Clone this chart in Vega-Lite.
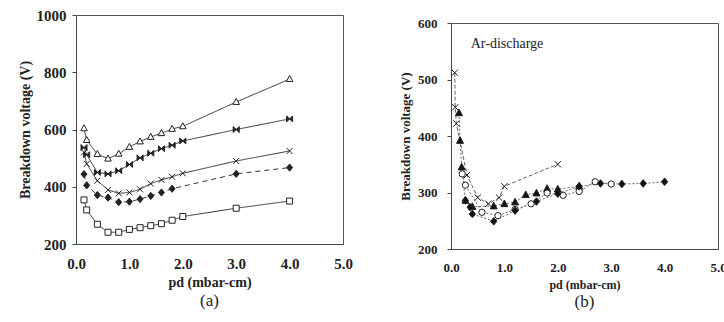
{
  "$schema": "https://vega.github.io/schema/vega-lite/v6.json",
  "padding": {"left": 17, "top": 7, "right": 0, "bottom": 0},
  "spacing": 46,
  "resolve": {"scale": {"shape": "independent", "fill": "independent", "strokeDash": "independent", "x": "independent", "y": "independent"}, "legend": {"shape": "independent"}},
  "config": {
    "font": "Liberation Serif",
    "view": {"stroke": "#555"},
    "axis": {"labelColor": "#222", "titleColor": "#222", "domainColor": "#444", "tickColor": "#444", "labelFontWeight": "bold", "titleFontWeight": "bold", "labelFlush": false}
  },
  "datasets": {
    "gases": [
      {"gas": "Carbon dioxide", "pd": 0.15, "v": 604}, {"gas": "Carbon dioxide", "pd": 0.2, "v": 563}, {"gas": "Carbon dioxide", "pd": 0.4, "v": 514}, {"gas": "Carbon dioxide", "pd": 0.6, "v": 498}, {"gas": "Carbon dioxide", "pd": 0.8, "v": 515}, {"gas": "Carbon dioxide", "pd": 1.0, "v": 539}, {"gas": "Carbon dioxide", "pd": 1.2, "v": 558}, {"gas": "Carbon dioxide", "pd": 1.4, "v": 574}, {"gas": "Carbon dioxide", "pd": 1.6, "v": 587}, {"gas": "Carbon dioxide", "pd": 1.8, "v": 602}, {"gas": "Carbon dioxide", "pd": 2.0, "v": 611}, {"gas": "Carbon dioxide", "pd": 3.0, "v": 696}, {"gas": "Carbon dioxide", "pd": 4.0, "v": 776},
      {"gas": "Air", "pd": 0.15, "v": 537}, {"gas": "Air", "pd": 0.2, "v": 512}, {"gas": "Air", "pd": 0.4, "v": 450}, {"gas": "Air", "pd": 0.6, "v": 445}, {"gas": "Air", "pd": 0.8, "v": 456}, {"gas": "Air", "pd": 1.0, "v": 478}, {"gas": "Air", "pd": 1.2, "v": 501}, {"gas": "Air", "pd": 1.4, "v": 517}, {"gas": "Air", "pd": 1.6, "v": 533}, {"gas": "Air", "pd": 1.8, "v": 545}, {"gas": "Air", "pd": 2.0, "v": 560}, {"gas": "Air", "pd": 3.0, "v": 600}, {"gas": "Air", "pd": 4.0, "v": 637},
      {"gas": "Oxygen", "pd": 0.15, "v": 520}, {"gas": "Oxygen", "pd": 0.2, "v": 480}, {"gas": "Oxygen", "pd": 0.4, "v": 421}, {"gas": "Oxygen", "pd": 0.6, "v": 389}, {"gas": "Oxygen", "pd": 0.8, "v": 377}, {"gas": "Oxygen", "pd": 1.0, "v": 380}, {"gas": "Oxygen", "pd": 1.2, "v": 391}, {"gas": "Oxygen", "pd": 1.4, "v": 411}, {"gas": "Oxygen", "pd": 1.6, "v": 424}, {"gas": "Oxygen", "pd": 1.8, "v": 435}, {"gas": "Oxygen", "pd": 2.0, "v": 447}, {"gas": "Oxygen", "pd": 3.0, "v": 490}, {"gas": "Oxygen", "pd": 4.0, "v": 525},
      {"gas": "Nitrogen", "pd": 0.15, "v": 444}, {"gas": "Nitrogen", "pd": 0.2, "v": 405}, {"gas": "Nitrogen", "pd": 0.4, "v": 371}, {"gas": "Nitrogen", "pd": 0.6, "v": 362}, {"gas": "Nitrogen", "pd": 0.8, "v": 346}, {"gas": "Nitrogen", "pd": 1.0, "v": 348}, {"gas": "Nitrogen", "pd": 1.2, "v": 357}, {"gas": "Nitrogen", "pd": 1.4, "v": 368}, {"gas": "Nitrogen", "pd": 1.6, "v": 380}, {"gas": "Nitrogen", "pd": 1.8, "v": 393}, {"gas": "Nitrogen", "pd": 3.0, "v": 445}, {"gas": "Nitrogen", "pd": 4.0, "v": 467},
      {"gas": "Argon", "pd": 0.15, "v": 354}, {"gas": "Argon", "pd": 0.2, "v": 319}, {"gas": "Argon", "pd": 0.4, "v": 269}, {"gas": "Argon", "pd": 0.6, "v": 241}, {"gas": "Argon", "pd": 0.8, "v": 241}, {"gas": "Argon", "pd": 1.0, "v": 251}, {"gas": "Argon", "pd": 1.2, "v": 257}, {"gas": "Argon", "pd": 1.4, "v": 264}, {"gas": "Argon", "pd": 1.6, "v": 271}, {"gas": "Argon", "pd": 1.8, "v": 283}, {"gas": "Argon", "pd": 2.0, "v": 296}, {"gas": "Argon", "pd": 3.0, "v": 325}, {"gas": "Argon", "pd": 4.0, "v": 350}
    ],
    "argon": [
      {"d": "d = 1.0 cm", "pd": 0.07, "v": 512}, {"d": "d = 1.0 cm", "pd": 0.08, "v": 451}, {"d": "d = 1.0 cm", "pd": 0.1, "v": 422}, {"d": "d = 1.0 cm", "pd": 0.3, "v": 331}, {"d": "d = 1.0 cm", "pd": 0.5, "v": 291}, {"d": "d = 1.0 cm", "pd": 0.7, "v": 280}, {"d": "d = 1.0 cm", "pd": 0.9, "v": 291}, {"d": "d = 1.0 cm", "pd": 1.0, "v": 311}, {"d": "d = 1.0 cm", "pd": 2.0, "v": 350},
      {"d": "d = 2.0 cm", "pd": 0.15, "v": 441}, {"d": "d = 2.0 cm", "pd": 0.17, "v": 392}, {"d": "d = 2.0 cm", "pd": 0.2, "v": 345}, {"d": "d = 2.0 cm", "pd": 0.27, "v": 286}, {"d": "d = 2.0 cm", "pd": 0.4, "v": 275}, {"d": "d = 2.0 cm", "pd": 0.8, "v": 276}, {"d": "d = 2.0 cm", "pd": 1.0, "v": 280}, {"d": "d = 2.0 cm", "pd": 1.2, "v": 283}, {"d": "d = 2.0 cm", "pd": 1.4, "v": 296}, {"d": "d = 2.0 cm", "pd": 1.6, "v": 299}, {"d": "d = 2.0 cm", "pd": 1.8, "v": 307}, {"d": "d = 2.0 cm", "pd": 2.0, "v": 306}, {"d": "d = 2.0 cm", "pd": 2.4, "v": 311},
      {"d": "d = 3.0 cm", "pd": 0.21, "v": 333}, {"d": "d = 3.0 cm", "pd": 0.27, "v": 313}, {"d": "d = 3.0 cm", "pd": 0.58, "v": 265}, {"d": "d = 3.0 cm", "pd": 0.88, "v": 259}, {"d": "d = 3.0 cm", "pd": 1.2, "v": 270}, {"d": "d = 3.0 cm", "pd": 1.5, "v": 280}, {"d": "d = 3.0 cm", "pd": 1.8, "v": 299}, {"d": "d = 3.0 cm", "pd": 2.1, "v": 295}, {"d": "d = 3.0 cm", "pd": 2.4, "v": 302}, {"d": "d = 3.0 cm", "pd": 2.7, "v": 319}, {"d": "d = 3.0 cm", "pd": 3.0, "v": 315},
      {"d": "d = 4.0 cm", "pd": 0.27, "v": 286}, {"d": "d = 4.0 cm", "pd": 0.36, "v": 274}, {"d": "d = 4.0 cm", "pd": 0.4, "v": 262}, {"d": "d = 4.0 cm", "pd": 0.8, "v": 249}, {"d": "d = 4.0 cm", "pd": 1.2, "v": 268}, {"d": "d = 4.0 cm", "pd": 1.6, "v": 284}, {"d": "d = 4.0 cm", "pd": 2.0, "v": 298}, {"d": "d = 4.0 cm", "pd": 2.4, "v": 311}, {"d": "d = 4.0 cm", "pd": 2.8, "v": 316}, {"d": "d = 4.0 cm", "pd": 3.2, "v": 315}, {"d": "d = 4.0 cm", "pd": 3.6, "v": 316}, {"d": "d = 4.0 cm", "pd": 4.0, "v": 319}
    ],
    "notes": [{"label": "Ar-discharge", "pd": 0.37, "v": 563}]
  },
  "hconcat": [
    {
      "width": 267,
      "height": 229,
      "title": {"text": "(a)", "orient": "bottom", "fontSize": 17, "fontWeight": "normal", "color": "#222", "offset": 4},
      "data": {"name": "gases"},
      "encoding": {
        "x": {"field": "pd", "type": "quantitative", "scale": {"domain": [0, 5]}, "axis": {"values": [0, 1, 2, 3, 4, 5], "format": ".1f", "title": "pd (mbar-cm)", "labelFontSize": 15, "titleFontSize": 14, "labelPadding": 12, "tickSize": 0, "titlePadding": 4, "grid": false}},
        "y": {"field": "v", "type": "quantitative", "scale": {"domain": [200, 1000]}, "axis": {"values": [200, 400, 600, 800, 1000], "format": "d", "title": "Breakdown voltage (V)", "labelFontSize": 15, "titleFontSize": 14, "labelPadding": 6, "tickSize": 4, "titlePadding": 4, "grid": false}}
      },
      "layer": [
        {
          "mark": {"type": "line", "color": "#333", "strokeWidth": 1},
          "encoding": {
            "detail": {"field": "gas"},
            "strokeDash": {"field": "gas", "type": "nominal", "scale": {"domain": ["Carbon dioxide", "Oxygen", "Air", "Nitrogen", "Argon"], "range": [[1, 0], [1, 0], [1, 0], [5, 4], [1, 0]]}, "legend": null}
          }
        },
        {
          "mark": {"type": "point", "filled": false, "stroke": "#222", "strokeWidth": 1, "size": 36, "opacity": 1},
          "encoding": {
            "fill": {"field": "gas", "type": "nominal", "scale": {"domain": ["Carbon dioxide", "Oxygen", "Air", "Nitrogen", "Argon"], "range": ["white", "#222", "#222", "#222", "white"]}, "legend": null},
            "shape": {
              "field": "gas", "type": "nominal",
              "scale": {"domain": ["Carbon dioxide", "Oxygen", "Air", "Nitrogen", "Argon"], "range": ["M0,-1.2L1.1,0.8L-1.1,0.8Z", "M-1,-1L1,1M-1,1L1,-1", "M-1,-1L1,1L1,-1L-1,1Z", "M0,-1.2L1,0L0,1.2L-1,0Z", "M-1,-1L1,-1L1,1L-1,1Z"]},
              "legend": {
                "title": null, "orient": "top-left", "offset": 11, "padding": 0,
                "labelFontSize": 15, "symbolSize": 36, "symbolOffset": 17, "labelOffset": 38, "rowPadding": 4, "symbolStrokeColor": "#222", "symbolStrokeWidth": 1,
                "encode": {
                  "symbols": {"update": {
                    "shape": {"signal": "datum.value === 'Carbon dioxide' ? 'M-6.7,0L-1,0M1,0L6.7,0M0,-1.2L1.1,0.8L-1.1,0.8Z' : datum.value === 'Oxygen' ? 'M-6.7,0L6.7,0M-0.8,-0.8L0.8,0.8M-0.8,0.8L0.8,-0.8M0,-1L0,1' : datum.value === 'Air' ? 'M-6.7,0L6.7,0M-1,-1L1,1L1,-1L-1,1Z' : datum.value === 'Nitrogen' ? 'M-6.7,0L-5,0M-3.7,0L-2,0M2,0L3.7,0M5,0L6.7,0M0,-1.2L1,0L0,1.2L-1,0Z' : 'M-6.7,0L-1,0M1,0L6.7,0M-1,-1L1,-1L1,1L-1,1Z'"},
                    "fill": {"signal": "datum.value === 'Carbon dioxide' || datum.value === 'Argon' ? 'white' : '#222'"}
                  }}
                }
              }
            }
          }
        }
      ]
    },
    {
      "vconcat": [
        {
          "width": 267,
          "height": 0.001,
          "view": {"stroke": null},
          "data": {"values": []},
          "mark": "point"
        },
        {
          "width": 267,
          "height": 226,
          "title": {"text": "(b)", "orient": "bottom", "fontSize": 17, "fontWeight": "normal", "color": "#222", "offset": 4},
          "layer": [
            {
              "data": {"name": "argon"},
              "mark": {"type": "line", "color": "#666", "strokeWidth": 1},
              "encoding": {
                "x": {"field": "pd", "type": "quantitative", "scale": {"domain": [0, 5]}, "axis": {"values": [0, 1, 2, 3, 4, 5], "format": ".1f", "title": "pd (mbar-cm)", "labelFontSize": 13, "titleFontSize": 12, "labelPadding": 12, "tickSize": 0, "titlePadding": 5, "grid": false}},
                "y": {"field": "v", "type": "quantitative", "scale": {"domain": [200, 600]}, "axis": {"values": [200, 300, 400, 500, 600], "title": "Breakdown voltage (V)", "labelFontSize": 13, "titleFontSize": 13, "labelPadding": 10, "tickSize": 4, "titlePadding": 5, "grid": false}},
                "detail": {"field": "d"},
                "strokeDash": {"field": "d", "type": "nominal", "scale": {"domain": ["d = 1.0 cm", "d = 2.0 cm", "d = 3.0 cm", "d = 4.0 cm"], "range": [[4, 2], [2, 2], [2, 2], [2, 2]]}, "legend": null}
              }
            },
            {
              "data": {"name": "argon"},
              "mark": {"type": "point", "filled": false, "stroke": "#222", "strokeWidth": 1, "size": 40, "opacity": 1},
              "encoding": {
                "x": {"field": "pd", "type": "quantitative"},
                "y": {"field": "v", "type": "quantitative"},
                "fill": {"field": "d", "type": "nominal", "scale": {"domain": ["d = 1.0 cm", "d = 2.0 cm", "d = 3.0 cm", "d = 4.0 cm"], "range": ["#222", "#111", "white", "#111"]}, "legend": null},
                "shape": {
                  "field": "d", "type": "nominal",
                  "scale": {"domain": ["d = 1.0 cm", "d = 2.0 cm", "d = 3.0 cm", "d = 4.0 cm"], "range": ["M-1,-1L1,1M-1,1L1,-1", "M0,-1.2L1.1,0.9L-1.1,0.9Z", "circle", "M0,-1.2L1,0L0,1.2L-1,0Z"]},
                  "legend": {
                    "title": null, "orient": "top-right", "offset": 19, "padding": 0,
                    "labelFontSize": 13, "symbolSize": 36, "symbolOffset": 13, "labelOffset": 30, "rowPadding": 3, "symbolStrokeColor": "#444", "symbolStrokeWidth": 1,
                    "encode": {
                      "symbols": {"update": {
                        "shape": {"signal": "datum.value === 'd = 1.0 cm' ? 'M-5.3,0L5.3,0M-0.8,0.8L0.8,-0.8' : datum.value === 'd = 2.0 cm' ? 'M-5.3,0L5.3,0M0,-1.1L1.1,0.9L-1.1,0.9Z' : datum.value === 'd = 3.0 cm' ? 'M-5.3,0L-1,0M1,0L5.3,0M-1,0A1,1,0,1,0,1,0A1,1,0,1,0,-1,0Z' : 'M-5.3,0L5.3,0M0,-1.2L1,0L0,1.2L-1,0Z'"},
                        "fill": {"signal": "datum.value === 'd = 3.0 cm' ? 'white' : '#111'"}
                      }}
                    }
                  }
                }
              }
            },
            {
              "data": {"name": "notes"},
              "mark": {"type": "text", "fontSize": 14, "align": "left", "baseline": "middle", "color": "#222"},
              "encoding": {
                "x": {"field": "pd", "type": "quantitative"},
                "y": {"field": "v", "type": "quantitative"},
                "text": {"field": "label"}
              }
            }
          ]
        }
      ],
      "spacing": 0
    }
  ]
}
